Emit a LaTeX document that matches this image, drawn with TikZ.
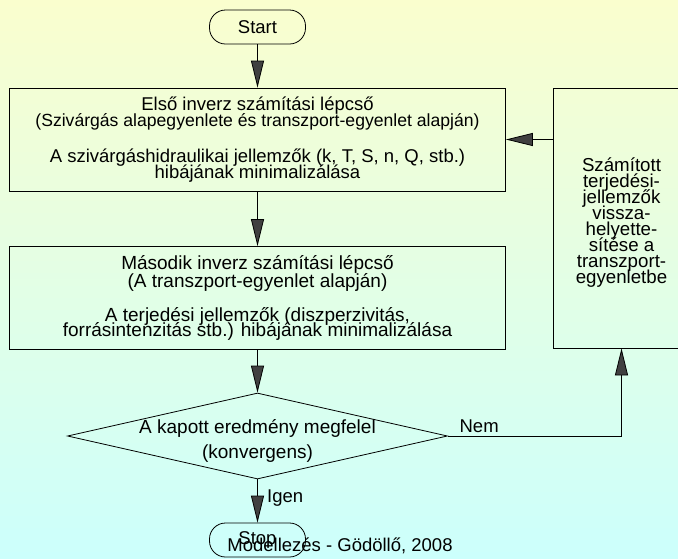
\documentclass[tikz,border=0pt]{standalone}
\usepackage{fontspec}
\setmainfont{Liberation Sans}
\usetikzlibrary{arrows.meta,shapes.geometric}

\definecolor{bgtop}{RGB}{250,254,206}
\definecolor{bgbottom}{RGB}{204,255,252}

% font size and a fixed line distance (lines may touch)
\newcommand{\flowfont}[2]{\fontsize{#1}{#2}\selectfont\lineskiplimit=-\maxdimen}

\tikzset{
  terminal/.style={draw, rounded corners=16pt, minimum width=96pt, minimum height=34pt, inner sep=0pt},
  stepbox/.style={draw, minimum width=496pt, minimum height=103pt, inner sep=0pt, align=center},
  decision/.style={draw, diamond, minimum width=380pt, minimum height=86pt, inner sep=0pt},
  flow/.style={draw, -{Triangle[length=27pt,width=13pt,fill=black!75]}},
}

\begin{document}
\begin{tikzpicture}[x=1pt,y=-1pt, line width=0.8pt, font=\flowfont{18.5}{15.5}]
                % background, graded from top to bottom
                \shade [top color=bgtop, bottom color=bgbottom] (0,0) rectangle (678,558);
                \clip (0,0) rectangle (678,558);

                % Drawing terminal Start
                \node [terminal] (start) at (257.5,27) {Start};

                % Drawing box step1
                \node [stepbox] (step1) at (257.5,139.5) {Első inverz számítási lépcső\\
                  {\flowfont{17.6}{15.5}(Szivárgás alapegyenlete és transzport-egyenlet alapján)}\\[21pt]
                  A szivárgáshidraulikai jellemzők (k, T, S, n, Q, stb.)\\
                  hibájának minimalizálása};

                % Drawing box step2
                \node [stepbox, font=\flowfont{19}{15}] (step2) at (257.5,298) {Második inverz számítási lépcső\\[3pt]
                  (A transzport-egyenlet alapján)\\[19pt]
                  A terjedési jellemzők (diszperzivitás,\\
                  forrásintenzitás stb.) hibájának minimalizálása};

                % Drawing box feedback (runs past the right edge)
                \node [stepbox, minimum width=137pt, minimum height=260pt,
                  label={[align=center, font=\flowfont{18.7}{16}, yshift=-5pt]center:Számított\\terjedési-\\jellemzők\\vissza-\\helyette-\\sítése a\\transzport-\\egyenletbe}]
                  (feedback) at (621.5,218) {};

                % Drawing decision check
                \node [decision, label={[align=center, font=\flowfont{19}{25}, yshift=-5pt]center:A kapott eredmény megfelel\\(konvergens)}]
                  (check) at (257.5,436) {};

                % Drawing terminal Stop
                \node [terminal] (stop) at (257.5,540) {Stop};

                % Marking footer
                \node [anchor=base] (footer) at (340,551.5) {Modellezés - Gödöllő, 2008};

                % Drawing connectors
                \draw [flow] (start) -- (step1);
                \draw [flow] (step1) -- (step2);
                \draw [flow] (step2) -- (check);
                \draw [flow] (check) -- node [right=6pt, pos=0.43] {Igen} (stop);
                \draw [flow] (check.east) -| node [above, pos=0.09] {Nem} (feedback.south);
                \draw [flow] (feedback.west |- step1.east) -- (step1.east);
\end{tikzpicture}
\end{document}
